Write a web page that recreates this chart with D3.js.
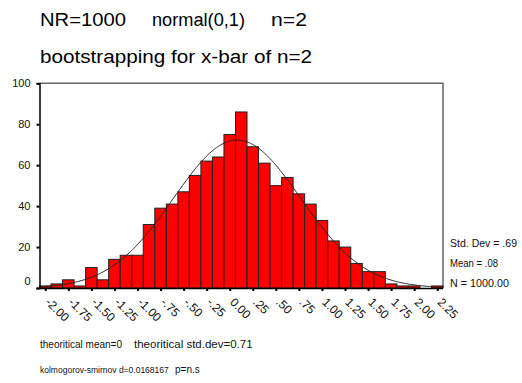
<!DOCTYPE html>
<html>
<head>
<meta charset="utf-8">
<script src="https://d3js.org/d3.v7.min.js"></script>
<style>
  body { margin: 0; background: #fff; }
  svg { display: block; font-family: Arial, "Liberation Sans", sans-serif; }
</style>
</head>
<body>
<script>
// bin midpoints (width .125) and counts
const binMids = [-2.000, -1.875, -1.750, -1.625, -1.500, -1.375, -1.250, -1.125, -1.000,
  -0.875, -0.750, -0.625, -0.500, -0.375, -0.250, -0.125, 0.000, 0.125, 0.250, 0.375,
  0.500, 0.625, 0.750, 0.875, 1.000, 1.125, 1.250, 1.375, 1.500, 1.625, 1.750, 1.875,
  2.000, 2.125, 2.250];
const counts = [1, 2, 4, 1, 10, 4, 14, 16, 16,
  31, 39, 41, 47, 55, 62, 64, 75, 86, 69, 61,
  50, 54, 46, 41, 33, 23, 20, 12, 8, 8, 2, 1,
  1, 0, 1];
const binWidth = 0.125;

const xTicks = [-2, -1.75, -1.5, -1.25, -1, -0.75, -0.5, -0.25, 0, 0.25, 0.5, 0.75, 1, 1.25, 1.5, 1.75, 2, 2.25];
const xTickLabels = ["-2.00", "-1.75", "-1.50", "-1.25", "-1.00", "-.75", "-.50", "-.25", "0.00",
  ".25", ".50", ".75", "1.00", "1.25", "1.50", "1.75", "2.00", "2.25"];
const yTicks = [0, 20, 40, 60, 80, 100];

// fitted normal, from the printed statistics
const stats = {sd: 0.69, mean: 0.08, n: 1000};
const statLines = ["Std. Dev = .69", "Mean = .08", "N = 1000.00"];

const width = 522, height = 383;
const margin = {top: 83.3, right: 79, bottom: 95, left: 39.5};

const svg = d3.select("body").append("svg")
    .attr("width", width)
    .attr("height", height);

const x = d3.scaleLinear()
    .domain([binMids[0] - binWidth / 2, binMids[binMids.length - 1] + binWidth / 2])
    .range([margin.left, width - margin.right]);

const y = d3.scaleLinear()
    .domain([0, 100])
    .range([height - margin.bottom, margin.top]);

// frame (top and right edges grey)
svg.append("path")
    .attr("d", `M${x.range()[0]},${y(100)}H${x.range()[1]}V${y(0)}`)
    .attr("fill", "none")
    .attr("stroke", "#666")
    .attr("stroke-width", 1.5);

// bars
svg.append("g")
  .selectAll("rect")
  .data(binMids.map((m, i) => ({m, c: counts[i]})).filter(d => d.c > 0))
  .join("rect")
    .attr("x", d => x(d.m - binWidth / 2))
    .attr("width", d => x(d.m + binWidth / 2) - x(d.m - binWidth / 2))
    .attr("y", d => y(d.c))
    .attr("height", d => y(0) - y(d.c))
    .attr("fill", "#ff0000")
    .attr("stroke", "#222")
    .attr("stroke-width", 1);

// normal curve
const curve = d3.range(x.domain()[0], x.domain()[1] + 0.001, 0.01).map(v => {
  const z = (v - stats.mean) / stats.sd;
  return [v, stats.n * binWidth / (stats.sd * Math.sqrt(2 * Math.PI)) * Math.exp(-z * z / 2)];
});
svg.append("path")
    .datum(curve)
    .attr("fill", "none")
    .attr("stroke", "#222")
    .attr("stroke-width", 1)
    .attr("d", d3.line().x(d => x(d[0])).y(d => y(d[1])));

// y axis
svg.append("g")
    .attr("transform", `translate(${margin.left},0)`)
    .call(d3.axisLeft(y).tickValues(yTicks).tickSize(3).tickPadding(6).tickFormat(d3.format("d")))
    .call(g => g.select(".domain").attr("stroke", "#000").attr("stroke-width", 1.5))
    .call(g => g.selectAll(".tick line").attr("stroke-width", 2))
    .call(g => g.selectAll(".tick text")
        .attr("font-size", 11)
        .attr("font-family", "Arial, 'Liberation Sans', sans-serif")
        .attr("fill", "#111")
        .attr("dy", d => d === 0 ? "-0.3em" : "0.32em"));

// x axis
svg.append("g")
    .attr("transform", `translate(0,${y(0)})`)
    .call(d3.axisBottom(x).tickValues(xTicks).tickSize(3).tickFormat((d, i) => xTickLabels[i]))
    .call(g => g.select(".domain").attr("stroke", "#000").attr("stroke-width", 1.5)
        .attr("d", `M${margin.left - 3},0.5H${width - margin.right}`))
    .call(g => g.selectAll(".tick line").attr("stroke-width", 2))
    .call(g => g.selectAll(".tick text")
        .attr("font-size", 12)
        .attr("font-family", "Arial, 'Liberation Sans', sans-serif")
        .attr("fill", "#111")
        .attr("text-anchor", "start")
        .attr("y", 0)
        .attr("dy", 0)
        .attr("transform", "translate(-1,15) rotate(45)"));

// titles
const title = svg.append("g").attr("font-size", 18).attr("fill", "#000");
[["NR=1000", 40, 86], ["normal(0,1)", 152, 93], ["n=2", 271, 36]].forEach(([t, tx, len]) => {
  title.append("text").attr("x", tx).attr("y", 26).text(t)
      .attr("textLength", len).attr("lengthAdjust", "spacingAndGlyphs");
});
title.append("text").attr("x", 40).attr("y", 63).text("bootstrapping for x-bar of n=2")
    .attr("textLength", 272).attr("lengthAdjust", "spacingAndGlyphs");

// stats box text
svg.append("g")
    .attr("font-size", 11)
    .attr("fill", "#111")
  .selectAll("text")
  .data(statLines)
  .join("text")
    .attr("x", 450)
    .attr("y", (d, i) => 246.7 + i * 20)
    .attr("textLength", (d, i) => [67, 48, 59][i])
    .attr("lengthAdjust", "spacingAndGlyphs")
    .text(d => d);

// footnotes
const notes = svg.append("g").attr("fill", "#111");
[["theoritical mean=0", 40, 348, 10], ["theoritical std.dev=0.71", 134, 348, 11.5],
 ["kolmogorov-smirnov d=0.0168167", 40, 373, 8.5], ["p=n.s", 175, 373, 10]].forEach(([t, tx, ty, fs]) => {
  notes.append("text").attr("x", tx).attr("y", ty).attr("font-size", fs).text(t);
});
</script>
</body>
</html>
